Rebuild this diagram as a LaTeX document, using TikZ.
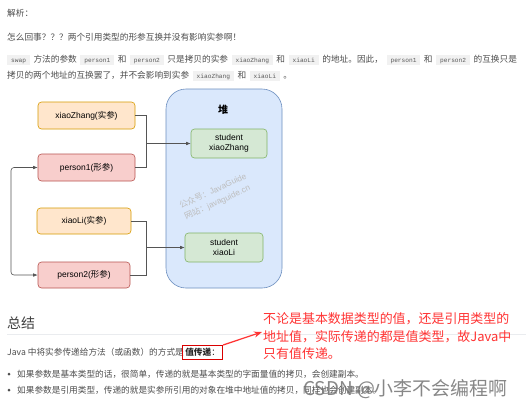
\documentclass[tikz,border=0pt]{standalone}
\usepackage{fontspec}
\setmainfont{Noto Sans CJK SC}
\newfontfamily\lat{Liberation Sans}
\newfontfamily\chipff{Liberation Mono}
\usetikzlibrary{arrows.meta,fit}
\definecolor{bodyc}{HTML}{4D4D4D}
\definecolor{chipbg}{HTML}{F1F1F1}
\definecolor{chiptext}{HTML}{5A5A5A}
\definecolor{orfill}{HTML}{FFE6CC}
\definecolor{ordraw}{HTML}{D79B00}
\definecolor{rdfill}{HTML}{F8CECC}
\definecolor{rddraw}{HTML}{B85450}
\definecolor{bluefill}{HTML}{DAE8FC}
\definecolor{bluedraw}{HTML}{6C8EBF}
\definecolor{gnfill}{HTML}{D5E8D4}
\definecolor{gndraw}{HTML}{82B366}
\definecolor{linec}{HTML}{555555}
\definecolor{notered}{HTML}{FF3333}
\definecolor{rulec}{HTML}{EAECEF}
\newcommand\bodyfont{\fontsize{8.7}{10}\selectfont}
\newcommand\diagfont{\fontsize{8.5}{10}\selectfont\lat}
\newcommand\chip[1]{\hspace{3.5bp}{\setlength{\fboxsep}{0pt}\colorbox{chipbg}{\rule[-2.8bp]{0pt}{10.5bp}\hspace{4bp}{\chipff\fontsize{6.2}{7}\selectfont\color{chiptext}#1}\hspace{4bp}}}\hspace{3.5bp}}
\tikzset{
  dbox/.style={rounded corners=3.5bp, line width=0.6bp, inner sep=0pt, font=\diagfont, align=center},
  argbox/.style={dbox, fill=orfill, draw=ordraw},
  parbox/.style={dbox, fill=rdfill, draw=rddraw},
  heapobj/.style={dbox, fill=gnfill, draw=gndraw},
  link/.style={draw=linec, line width=0.6bp},
  arr/.style={link, -{Latex[length=4.5bp,width=3.6bp]}},
  body/.style={anchor=base west, inner sep=0pt, font=\bodyfont, text=bodyc},
  notetext/.style={anchor=base west, inner sep=0pt, font=\fontsize{13}{15}\selectfont, text=notered},
  wmark/.style={font=\fontsize{8.3}{10}\selectfont, text=black!26, rotate=25, inner sep=0pt, anchor=base west},
}
\begin{document}
\begin{tikzpicture}[x=1bp,y=-1bp]
\useasboundingbox (0,0) rectangle (530,405);
\fill[white] (0,0) rectangle (530,405);

% top paragraph
\node[body] (t1) at (7,16.5) {解析：};
\node[body] (t2) at (7,40) {怎么回事？？？两个引用类型的形参互换并没有影响实参啊！};
\node[body] (t3) at (3.5,62.5) {\chip{swap}方法的参数\chip{person1}和\chip{person2}只是拷贝的实参\chip{xiaoZhang}和\chip{xiaoLi}的地址。因此，\chip{person1}和\chip{person2}的互换只是};
\node[body] (t4) at (7,78.5) {拷贝的两个地址的互换罢了，并不会影响到实参\chip{xiaoZhang}和\chip{xiaoLi}。};

% diagram
\node[dbox, fill=bluefill, draw=bluedraw, rounded corners=20bp, minimum width=116bp, minimum height=199bp] (heap) at (224,188.5) {};
\node[font=\fontsize{10}{12}\selectfont\bfseries, inner sep=0pt] (heaplbl) at (223,110) {堆};
\node[wmark] (wm1) at (181,209) {公众号：{\lat JavaGuide}};
\node[wmark] (wm2) at (186,220) {网站：{\lat javaguide.cn}};

\node[argbox, minimum width=97bp, minimum height=27bp] (xz) at (86.5,115.5) {xiaoZhang(\rmfamily 实参\lat)};
\node[parbox, minimum width=97bp, minimum height=27bp] (p1) at (86.5,167.5) {person1(\rmfamily 形参\lat)};
\node[argbox, minimum width=94bp, minimum height=26bp] (xl) at (84,221) {xiaoLi(\rmfamily 实参\lat)};
\node[parbox, minimum width=92bp, minimum height=26bp] (p2) at (84,275) {person2(\rmfamily 形参\lat)};
\node[heapobj, minimum width=76bp, minimum height=29bp] (sz) at (229,143.5) {student\\xiaoZhang};
\node[heapobj, minimum width=78bp, minimum height=29bp] (sl) at (224,247.5) {student\\xiaoLi};

\coordinate (j1) at (146,143.5);
\coordinate (j2) at (146,247.5);
\coordinate (lx) at (11,200);

\draw[link] (xz.east) -| (j1);
\draw[link] (p1.east) -| (j1);
\draw[arr] (j1) -- (sz.west);
\draw[link] (xl.east) -| (j2);
\draw[link] (p2.east) -| (j2);
\draw[arr] (j2) -- (sl.west);
\draw[link, {Latex[length=4.5bp,width=3.6bp]}-{Latex[length=4.5bp,width=3.6bp]}, rounded corners=3bp] (p1.west) -| (lx |- p2.west) -- (p2.west);

% summary
\node[anchor=base west, inner sep=0pt, font=\fontsize{14}{16}\selectfont, text=black!75] (sum) at (7,328.3) {总结};
\coordinate (r1) at (7,334);
\coordinate (r2) at (526,334);
\draw[rulec, line width=0.6bp] (r1) -- (r2);

\node[body] (jl) at (7,355.7) {Java 中将实参传递给方法（或函数）的方式是};
\node[body, text=black!85] (zhi) at ([xshift=1bp]jl.base east) {\bfseries 值传递\mdseries ：};
\node[fit=(zhi), draw=red!85!black, line width=1bp, inner xsep=2.5bp, inner ysep=2.5bp] (zbox) {};

\node[notetext] (n1) at (263,323.5) {不论是基本数据类型的值，还是引用类型的};
\node[notetext] (n2) at (263,341) {地址值，实际传递的都是值类型，故Java中};
\node[notetext] (n3) at (263,358) {只有值传递。};
\coordinate (tip) at (262,332);
\draw[notered, line width=1.2bp, -{Stealth[length=8bp,width=6bp]}] (zbox.north east) -- (tip);

\node[circle, fill=bodyc, inner sep=0pt, minimum size=3bp] (b1) at (9,374) {};
\node[circle, fill=bodyc, inner sep=0pt, minimum size=3bp] (b2) at (9,390) {};
\node[body] (l1) at (17,377.2) {如果参数是基本类型的话，很简单，传递的就是基本类型的字面量值的拷贝，会创建副本。};
\node[body] (l2) at (17,393.2) {如果参数是引用类型，传递的就是实参所引用的对象在堆中地址值的拷贝，同样也会创建副本。};

\node[anchor=base west, inner sep=0pt, font=\fontsize{19}{21}\selectfont, text=black!55, opacity=0.85] (csdn) at (303,395) {CSDN @小李不会编程啊};
\end{tikzpicture}
\end{document}
